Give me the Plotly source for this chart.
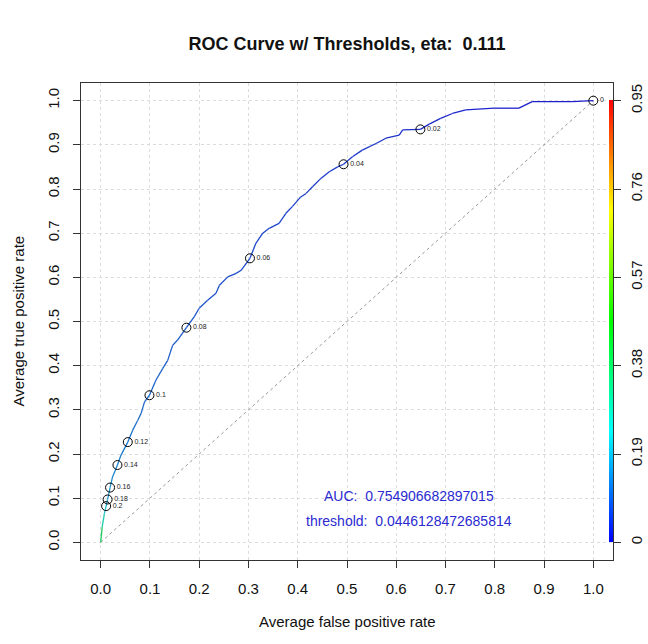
import plotly.graph_objects as go
from plotly.colors import sample_colorscale, unlabel_rgb, hex_to_rgb

# ---------------- data ----------------
fpr = [0.0, 0.003, 0.0075, 0.011, 0.014, 0.019, 0.024, 0.034, 0.041, 0.055,
       0.065, 0.075, 0.082, 0.089, 0.099, 0.112, 0.126, 0.136, 0.146, 0.156,
       0.174, 0.190, 0.200, 0.217, 0.234, 0.241, 0.258, 0.275, 0.285, 0.303,
       0.315, 0.329, 0.342, 0.362, 0.376, 0.389, 0.406, 0.417, 0.430, 0.447,
       0.464, 0.481, 0.493, 0.511, 0.531, 0.559, 0.579, 0.606, 0.613, 0.649,
       0.667, 0.690, 0.714, 0.741, 0.799, 0.849, 0.876, 0.957, 1.0]
tpr = [0.0, 0.035, 0.065, 0.082, 0.097, 0.124, 0.148, 0.175, 0.197, 0.227,
       0.254, 0.276, 0.292, 0.318, 0.333, 0.367, 0.394, 0.412, 0.446, 0.458,
       0.486, 0.511, 0.530, 0.548, 0.564, 0.582, 0.601, 0.609, 0.616, 0.643,
       0.677, 0.700, 0.711, 0.722, 0.745, 0.760, 0.782, 0.790, 0.805, 0.824,
       0.839, 0.850, 0.856, 0.873, 0.888, 0.903, 0.915, 0.922, 0.934, 0.935,
       0.947, 0.960, 0.971, 0.979, 0.983, 0.983, 0.998, 0.998, 1.0]
thresholds = [0.45, 0.32, 0.24, 0.20, 0.18, 0.16, 0.15, 0.14, 0.13, 0.12,
              0.115, 0.11, 0.107, 0.103, 0.10, 0.096, 0.093, 0.09, 0.087, 0.084,
              0.08, 0.077, 0.075, 0.072, 0.069, 0.067, 0.065, 0.063, 0.062, 0.06,
              0.058, 0.056, 0.055, 0.053, 0.051, 0.05, 0.048, 0.047, 0.046, 0.044,
              0.043, 0.041, 0.04, 0.038, 0.036, 0.033, 0.03, 0.026, 0.025, 0.02,
              0.018, 0.015, 0.012, 0.01, 0.007, 0.005, 0.003, 0.001, 0.0]

cut_labels = ["0.2", "0.18", "0.16", "0.14", "0.12", "0.1", "0.08", "0.06", "0.04", "0.02", "0"]
cut_fpr = [0.011, 0.014, 0.019, 0.034, 0.055, 0.099, 0.174, 0.303, 0.493, 0.649, 1.0]
cut_tpr = [0.082, 0.097, 0.124, 0.175, 0.227, 0.333, 0.486, 0.643, 0.856, 0.935, 1.0]

axis_ticks = [0.0, 0.1, 0.2, 0.3, 0.4, 0.5, 0.6, 0.7, 0.8, 0.9, 1.0]
axis_ticktext = ["0.0", "0.1", "0.2", "0.3", "0.4", "0.5", "0.6", "0.7", "0.8", "0.9", "1.0"]
color_ticks = [0, 0.19, 0.38, 0.57, 0.76, 0.95]
color_ticktext = ["0", "0.19", "0.38", "0.57", "0.76", "0.95"]

auc_value = "0.754906682897015"
best_threshold = "0.0446128472685814"
eta = "0.111"

# ---------------- styling ----------------
FONT = "Liberation Sans, Arial, sans-serif"
rainbow = [[0.0, "#0000FF"], [0.25, "#00FFFF"], [0.5, "#00FF00"],
           [0.75, "#FFFF00"], [1.0, "#FF0000"]]
cmax = 0.95


def curve_color(t):
    c = sample_colorscale(rainbow, [min(max(t / cmax, 0), 1)])[0]
    if c.startswith("#"):
        r, g, b = hex_to_rgb(c)
    else:
        r, g, b = unlabel_rgb(c)
    k = 0.68
    r, g, b = [int(round(k * v + (1 - k) * 95)) for v in (r, g, b)]
    return f"rgb({r},{g},{b})"


fig = go.Figure()

# diagonal reference
fig.add_trace(go.Scatter(x=[0, 1], y=[0, 1], mode="lines",
                         line=dict(color="#999999", width=1, dash="dot"),
                         hoverinfo="skip", showlegend=False))

# colorized ROC curve (segment by segment)
for i in range(len(fpr) - 1):
    t = (thresholds[i] + thresholds[i + 1]) / 2.0
    fig.add_trace(go.Scatter(x=[fpr[i], fpr[i + 1]], y=[tpr[i], tpr[i + 1]],
                             mode="lines", line=dict(color=curve_color(t), width=1.3),
                             hoverinfo="skip", showlegend=False))

# cutoff markers and labels
fig.add_trace(go.Scatter(x=cut_fpr, y=cut_tpr, mode="markers+text",
                         text=cut_labels, textposition="middle right",
                         textfont=dict(family=FONT, size=7, color="#222"),
                         marker=dict(symbol="circle-open", size=9,
                                     color="black", line=dict(width=1)),
                         showlegend=False))

# invisible trace carrying the colour bar, on the right-hand axis
fig.add_trace(go.Scatter(x=fpr, y=thresholds, yaxis="y2", mode="markers",
                         marker=dict(color=thresholds, colorscale=rainbow,
                                     cmin=0, cmax=cmax, opacity=0, size=1,
                                     showscale=True,
                                     colorbar=dict(x=1.0, xanchor="right", xpad=0,
                                                   y=0.04 / 1.08, yanchor="bottom",
                                                   len=1 / 1.08, lenmode="fraction",
                                                   ypad=0, thickness=4,
                                                   outlinewidth=0,
                                                   showticklabels=False, ticks="")),
                         hoverinfo="skip", showlegend=False))

axis_common = dict(
    range=[-0.04, 1.04], tickvals=axis_ticks, ticktext=axis_ticktext,
    showgrid=True, griddash="dot", gridcolor="#dcdcdc", gridwidth=1,
    zeroline=False, showline=True, mirror=True, linecolor="#333", linewidth=1,
    ticks="outside", ticklen=7, tickcolor="#333",
    tickfont=dict(family=FONT, size=15, color="#111"),
)

fig.update_layout(
    width=648, height=644,
    margin=dict(l=81, r=35, t=83, b=84, autoexpand=False),
    paper_bgcolor="white", plot_bgcolor="white",
    font=dict(family=FONT, color="#111"),
    title=dict(text=f"<b>ROC Curve w/ Thresholds, eta:  {eta}</b>",
               x=0.5, xref="paper", xanchor="center",
               y=1 - 44 / 644, yref="container", yanchor="middle",
               font=dict(family=FONT, size=18, color="#111")),
    xaxis=dict(**axis_common, ticklabelstandoff=8),
    yaxis=dict(**axis_common, tickangle=-90, ticklabelstandoff=8),
    yaxis2=dict(overlaying="y", side="right", anchor="x",
                range=[-0.04 * cmax, 1.04 * cmax],
                tickvals=color_ticks, ticktext=color_ticktext,
                tickangle=-90, ticks="outside", ticklen=7, tickcolor="#333",
                showgrid=False, zeroline=False, showline=False,
                ticklabelstandoff=3,
                tickfont=dict(family=FONT, size=15, color="#111")),
    annotations=[
        dict(text="Average false positive rate", xref="paper", yref="paper",
             x=0.5, y=(560 - 622) / 477.3, xanchor="center", yanchor="middle",
             showarrow=False, font=dict(family=FONT, size=15, color="#111")),
        dict(text="Average true positive rate", xref="paper", yref="paper",
             x=(18 - 81) / 532, y=0.5, xanchor="center", yanchor="middle",
             textangle=-90, showarrow=False,
             font=dict(family=FONT, size=15, color="#111")),
        dict(text=f"AUC:  {auc_value}", xref="x", yref="y", x=0.626, y=0.104,
             xanchor="center", yanchor="middle", showarrow=False,
             font=dict(family=FONT, size=14, color="#2a2ad0")),
        dict(text=f"threshold:  {best_threshold}", xref="x", yref="y", x=0.626, y=0.048,
             xanchor="center", yanchor="middle", showarrow=False,
             font=dict(family=FONT, size=14, color="#2a2ad0")),
    ],
)

fig.write_html("out.html")
